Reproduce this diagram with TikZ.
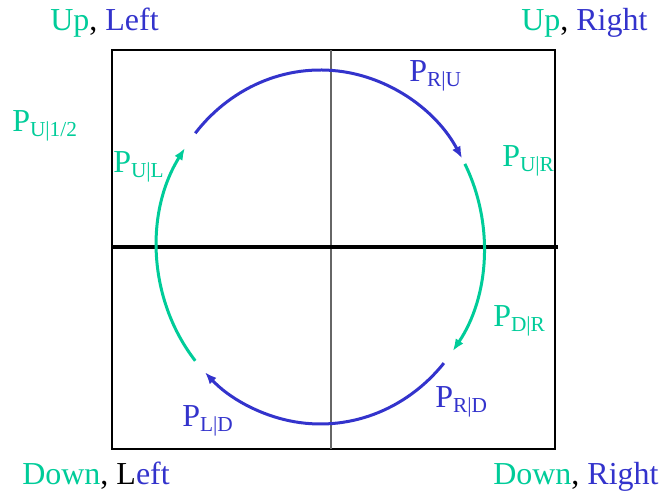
\documentclass[tikz,border=0pt]{standalone}
\usepackage{fontspec}
\setmainfont{Liberation Serif}
\usetikzlibrary{arrows.meta}
\definecolor{pgreen}{RGB}{0,204,153}
\definecolor{pblue}{RGB}{51,51,204}
\tikzset{lbl/.style={font=\fontsize{24}{28}\selectfont, inner sep=0pt, anchor=base west},
  flow/.style={line width=2.25pt, -{Latex[length=9pt,width=7pt]}},
  plain/.style={line width=2.25pt}}
\newcommand{\Pcond}[1]{P\raisebox{-3.75pt}{\fontsize{16}{16}\selectfont #1}}

\begin{document}
\begin{tikzpicture}[x=0.75pt, y=0.75pt]
\useasboundingbox (0,0) rectangle (667,495);
\draw[line width=1.1pt] (112,46) rectangle (555,445);
\draw[line width=1pt, black!60] (331,46) -- (331,445);
\draw[line width=3pt] (112,248) -- (558,248);
\coordinate (c) at (320.5,248);
% the four legs of the cycle
\draw[flow, pblue] (c) ++(140:163.5 and 177) arc[start angle=140, end angle=30, x radius=163.5, y radius=177];
\draw[flow, pgreen] (c) ++(28:163.5 and 177) arc[start angle=28, end angle=-36, x radius=163.5, y radius=177];
\draw[flow, pblue] (c) ++(-41:163.5 and 177) arc[start angle=-41, end angle=-135, x radius=163.5, y radius=177];
\draw[flow, pgreen] (c) ++(220:163.5 and 177) arc[start angle=220, end angle=146, x radius=163.5, y radius=177];
% corners
\node[lbl] (ul) at (50,464) {\textcolor{pgreen}{Up}, \textcolor{pblue}{Left}};
\node[lbl] (ur) at (521,464) {\textcolor{pgreen}{Up}, \textcolor{pblue}{Right}};
\node[lbl] (dl) at (22,10) {\textcolor{pgreen}{Down}, L\textcolor{pblue}{eft}};
\node[lbl] (dr) at (493,10) {\textcolor{pgreen}{Down}, \textcolor{pblue}{Right}};
% transition labels
\node[lbl, pgreen] (pu0) at (12,363) {\Pcond{U|1/2}};
\node[lbl, pgreen] (pul) at (113,322) {\Pcond{U|L}};
\node[lbl, pblue] (pru) at (409,413) {\Pcond{R|U}};
\node[lbl, pgreen] (pur) at (502,328) {\Pcond{U|R}};
\node[lbl, pgreen] (pdr) at (493,168) {\Pcond{D|R}};
\node[lbl, pblue] (prd) at (435,87) {\Pcond{R|D}};
\node[lbl, pblue] (pld) at (182,68) {\Pcond{L|D}};
\end{tikzpicture}
\end{document}
